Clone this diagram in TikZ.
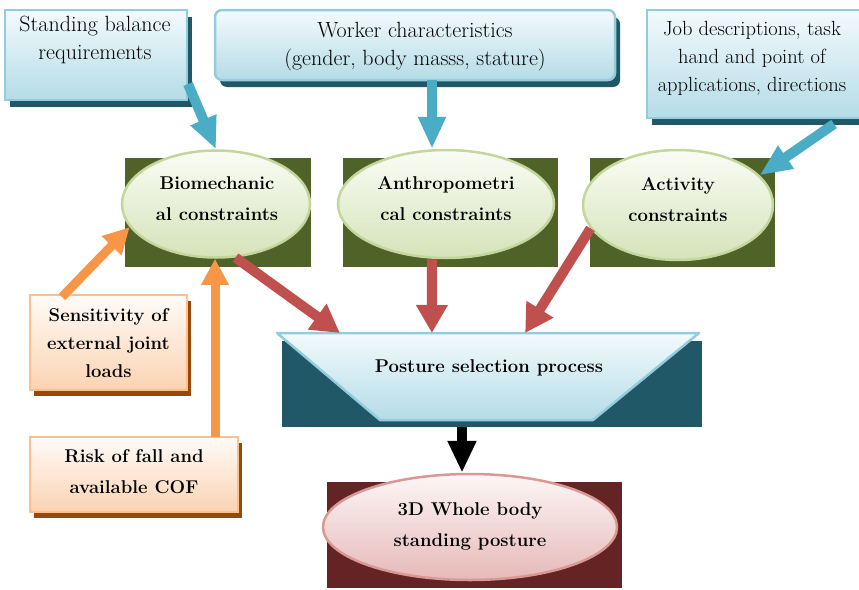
\documentclass[tikz,border=0pt]{standalone}
\usepackage{fontspec}
\usetikzlibrary{arrows.meta,shapes.geometric,shadows,calc}

\definecolor{bluetop}{HTML}{F3FAFC}
\definecolor{bluebot}{HTML}{B4DCE7}
\definecolor{blueedge}{HTML}{93CDDD}
\definecolor{tealshadow}{HTML}{215867}
\definecolor{greenbg}{HTML}{4F6228}
\definecolor{greentop}{HTML}{FAFCF5}
\definecolor{greenbot}{HTML}{D5E3B9}
\definecolor{greenedge}{HTML}{C3D69B}
\definecolor{orangetop}{HTML}{FFFBF8}
\definecolor{orangebot}{HTML}{FBD3B2}
\definecolor{orangeedge}{HTML}{FAC090}
\definecolor{brownshadow}{HTML}{984807}
\definecolor{redbg}{HTML}{632423}
\definecolor{pinktop}{HTML}{FDF6F6}
\definecolor{pinkbot}{HTML}{E6B9B8}
\definecolor{pinkedge}{HTML}{D99795}
\definecolor{arrowblue}{HTML}{4BACC6}
\definecolor{arroworange}{HTML}{F79646}
\definecolor{arrowred}{HTML}{C0504D}

\begin{document}
\begin{tikzpicture}[x=1pt,y=-1pt,
  txt/.style={font=\fontsize{22}{28}\selectfont, align=center, inner sep=0pt},
  btxt/.style={font=\bfseries\fontsize{18.5}{31}\selectfont, align=center, inner sep=0pt},
  bluebox/.style={draw=blueedge, line width=2.5pt, top color=bluetop, bottom color=bluebot,
    general shadow={fill=tealshadow, shadow xshift=5pt, shadow yshift=-7pt}, inner sep=0pt},
  orangebox/.style={draw=orangeedge, line width=2.5pt, top color=orangetop, bottom color=orangebot,
    general shadow={fill=brownshadow, shadow xshift=4pt, shadow yshift=-6pt}, inner sep=0pt},
  backrect/.style={fill=#1, inner sep=0pt},
  greenoval/.style={ellipse, draw=greenedge, line width=2.5pt, top color=greentop, bottom color=greenbot, inner sep=0pt},
  pinkoval/.style={ellipse, draw=pinkedge, line width=2.5pt, top color=pinktop, bottom color=pinkbot, inner sep=0pt},
  bluearrow/.style={draw=arrowblue, line width=10pt, -{Triangle[length=32pt,width=26pt]}},
  orangearrow/.style={draw=arroworange, line width=9pt, -{Triangle[length=26pt,width=26pt]}},
  redarrow/.style={draw=arrowred, line width=10pt, -{Triangle[length=28pt,width=30pt]}},
  blackarrow/.style={draw=black, line width=10pt, -{Triangle[length=32pt,width=27pt]}},
]
\useasboundingbox (0,0) rectangle (859,589);

% input boxes along the top
\node[bluebox, minimum width=182pt, minimum height=90pt] (stand) at (96,55) {};
\node[txt] (standtxt) at (95,40) {Standing balance\\requirements};

\node[bluebox, rounded corners=7pt, minimum width=400pt, minimum height=70pt] (worker) at (415,45) {};
\node[txt] (workertxt) at (415,47) {Worker characteristics\\(gender, body masss, stature)};

\node[bluebox, minimum width=224pt, minimum height=108pt] (job) at (759,64) {};
\node[txt, font=\fontsize{20.5}{28}\selectfont] (jobtxt) at (752,58) {Job descriptions, task\\hand and point of\\applications, directions};

% constraint ovals on dark green panels
\node[backrect=greenbg, minimum width=186pt, minimum height=109pt] (biobg) at (218,212.5) {};
\node[greenoval, minimum width=188pt, minimum height=107pt] (bio) at (216,204) {};
\node[btxt] (biotxt) at (217,199) {Biomechanic\\al constraints};

\node[backrect=greenbg, minimum width=215pt, minimum height=109pt] (anthbg) at (450.5,212.5) {};
\node[greenoval, minimum width=216pt, minimum height=108pt] (anth) at (446,204) {};
\node[btxt] (anthtxt) at (446,199) {Anthropometri\\cal constraints};

\node[backrect=greenbg, minimum width=185pt, minimum height=109pt] (actbg) at (682.5,212.5) {};
\node[greenoval, minimum width=190pt, minimum height=110pt] (act) at (678,205) {};
\node[btxt] (acttxt) at (678,200) {Activity\\constraints};

% side factors
\node[orangebox, minimum width=157pt, minimum height=95pt] (sens) at (108.5,342.5) {};
\node[btxt, font=\bfseries\fontsize{18.5}{28}\selectfont] (senstxt) at (108.5,343) {Sensitivity of\\external joint\\loads};

\node[orangebox, minimum width=208pt, minimum height=75pt] (risk) at (134,474.5) {};
\node[btxt] (risktxt) at (134,472) {Risk of fall and\\available COF};

% selection process: funnel on a dark panel
\node[backrect=tealshadow, minimum width=420pt, minimum height=86pt] (pspbg) at (492,384) {};
\coordinate (ptl) at (277,333);
\coordinate (ptr) at (699,333);
\coordinate (pbr) at (593,420);
\coordinate (pbl) at (380,420);
\path[draw=blueedge, line width=2.5pt, line join=round, top color=bluetop, bottom color=bluebot]
  (ptl) -- (ptr) -- (pbr) -- (pbl) -- cycle;
\node[btxt] (psp) at (489,368) {Posture selection process};

% result
\node[backrect=redbg, minimum width=295pt, minimum height=106pt] (resbg) at (474.5,535) {};
\node[pinkoval, minimum width=294pt, minimum height=106pt] (res) at (470,527) {};
\node[btxt] (restxt) at (470,526) {3D Whole body\\standing posture};

% anchor points for arrow tails
\coordinate (s1) at (188,84);
\coordinate (w1) at (432,80);
\coordinate (j1) at (834,124);
\coordinate (o1) at (62,297);
\coordinate (o2) at (215,437);
\coordinate (k1) at (462,427);

% connectors
\draw[bluearrow] (s1) -- (bio.north);
\draw[bluearrow] (w1) -- (anth.north -| w1);
\draw[bluearrow] (j1) -- (act.20);

\draw[orangearrow] (o1) -- (bio.195);
\draw[orangearrow] (o2) -- (bio.south -| o2);

\draw[redarrow] (bio.-70) -- ($(ptl)!0.149!(ptr)$);
\draw[redarrow] (anth.south -| w1) -- ($(ptl)!0.367!(ptr)$);
\draw[redarrow] (act.195) -- ($(ptl)!0.588!(ptr)$);

\draw[blackarrow] (k1) -- (res.north -| k1);
\end{tikzpicture}
\end{document}
